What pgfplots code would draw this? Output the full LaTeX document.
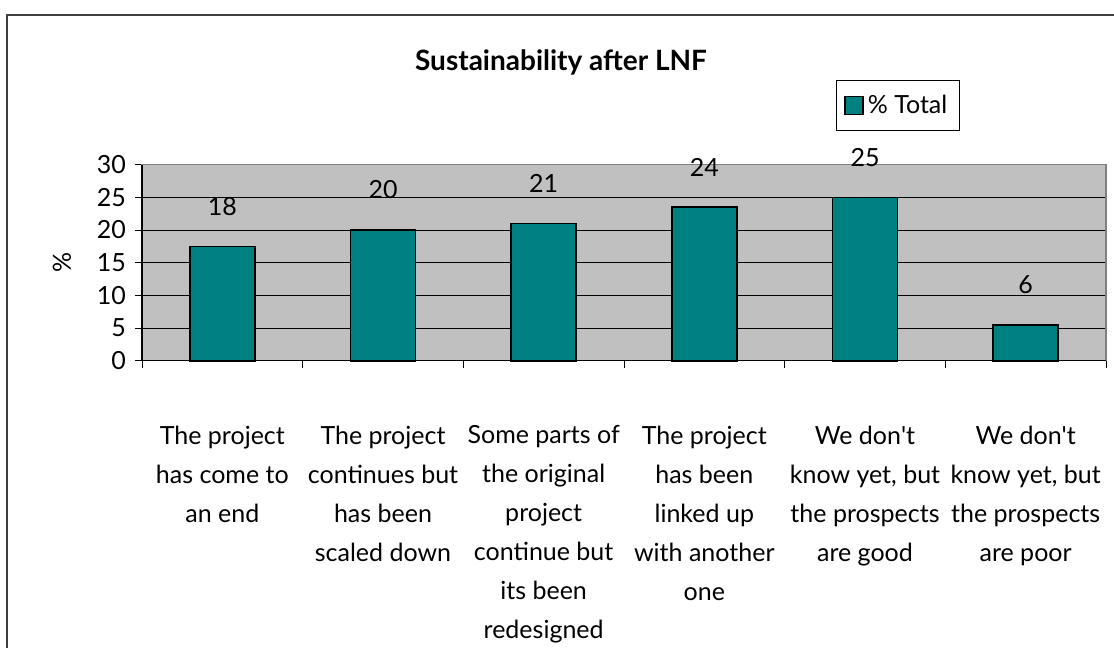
\documentclass[border=0pt]{standalone}
\usepackage{fontspec}
\setmainfont{Lato}
\usepackage{pgfplots}
\usepackage{pgfplotstable}
\pgfplotsset{compat=1.18}
\definecolor{barteal}{HTML}{008080}
\definecolor{plotgray}{HTML}{C0C0C0}
\pgfplotstableread{
x y lab
0 17.5 18
1 20 20
2 21 21
3 23.5 24
4 25 25
5 5.5 6
}\datatable
\begin{document}
\begin{tikzpicture}
\useasboundingbox (0pt,0pt) rectangle (557pt,324pt);
\draw[line width=1pt,color=black!75] (3.5pt,-10pt) rectangle (570pt,316.5pt);
\node[font=\bfseries\fontsize{14}{16}\selectfont] at (280.5pt,293pt) {Sustainability after LNF};
\begin{axis}[
  at={(71pt,143.65pt)}, anchor=south west, scale only axis,
  width=482pt, height=98pt,
  ymin=0, ymax=30, ytick={0,5,...,30},
  xmin=-0.5, xmax=5.5,
  axis background/.style={fill=plotgray},
  axis line style={draw=gray, line width=0.6pt},
  ymajorgrids, grid style={black, line width=0.5pt},
  ytick pos=left, xtick pos=bottom, tick align=outside, major tick length=3.5pt,
  tick style={black, line width=0.5pt},
  xtick={-0.5,0.5,...,5.5},
  x tick label as interval,
  xticklabels={
    {The project\\has come to\\an end},
    {The project\\continues but\\has been\\scaled down},
    {Some parts of\\the original\\project\\continue but\\its been\\redesigned},
    {The project\\has been\\linked up\\with another\\one},
    {We don\textquotesingle t\\know yet, but\\the prospects\\are good},
    {We don\textquotesingle t\\know yet, but\\the prospects\\are poor}},
  /pgf/number format/assume math mode=true,
  yticklabel style={font=\fontsize{12.5}{14}\selectfont, xshift=-1pt},
  xticklabel style={align=center, font=\fontsize{12.5}{19.5}\selectfont, yshift=-25.5pt},
  ylabel={\%},
  ylabel style={at={(axis description cs:-0.083,0.503)}, anchor=center, font=\fontsize{12.5}{14}\selectfont},
  legend style={at={(0.784,1.302)}, anchor=center, draw=black, font=\fontsize{12.5}{14}\selectfont,
    inner xsep=4pt, inner ysep=5pt},
  legend image code/.code={\draw[fill=barteal, draw=black, line width=0.8pt] (0pt,-4.5pt) rectangle (9pt,4.5pt);},
  clip=false,
]
\addplot[ybar, bar width=32.5pt, fill=barteal, draw=black, line width=0.8pt,
  nodes near coords, point meta=explicit symbolic,
  every node near coord/.append style={anchor=center, yshift=20pt, font=\fontsize{12.5}{14}\selectfont, black}]
  table[x=x, y=y, meta=lab] {\datatable};
\addlegendentry{\% Total}
\draw[gray, line width=0.6pt] (rel axis cs:0,1) -- (rel axis cs:1,1) -- (rel axis cs:1,0);
\draw[black, line width=0.6pt] (rel axis cs:0,1) -- (rel axis cs:0,0) -- (rel axis cs:1,0);
\end{axis}
\end{tikzpicture}
\end{document}
